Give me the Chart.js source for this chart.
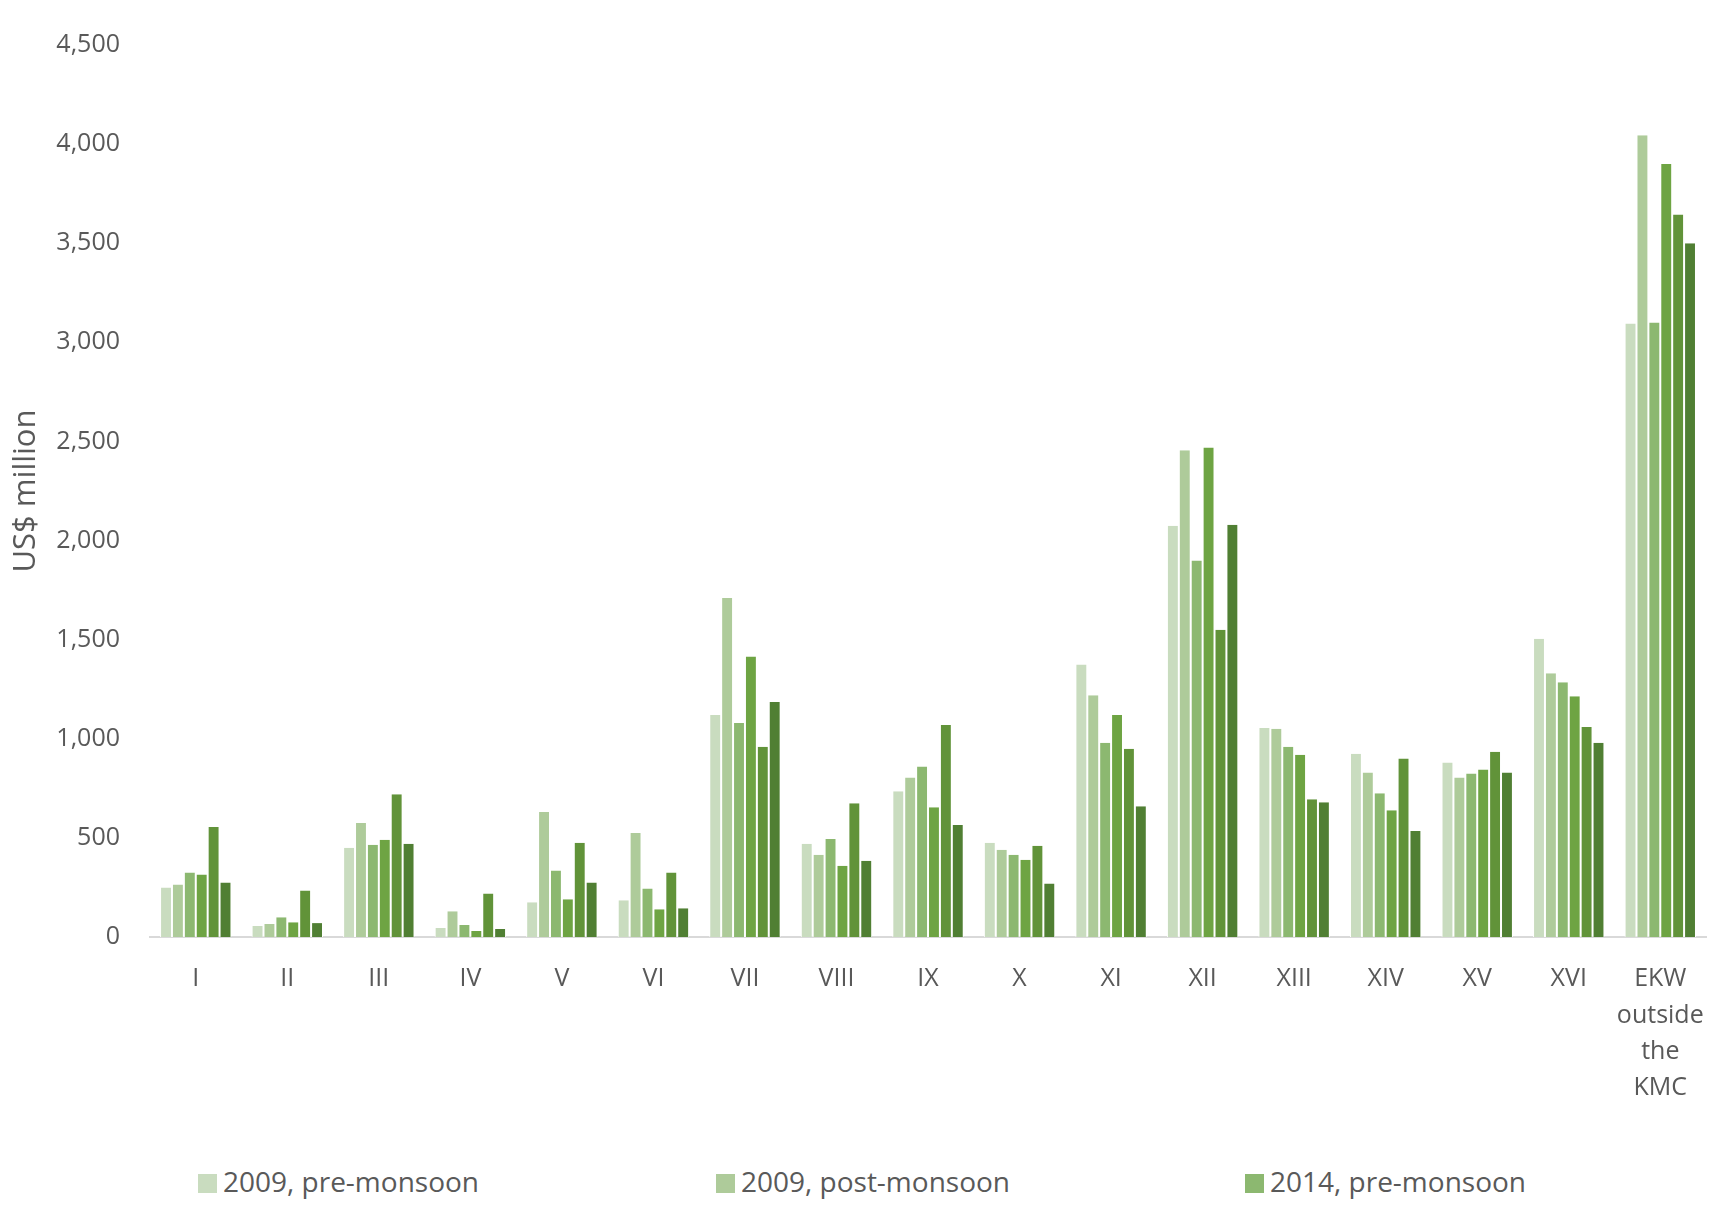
<!DOCTYPE html>
<html>
<head>
<meta charset="utf-8">
<script src="https://cdn.jsdelivr.net/npm/chart.js@4"></script>
<style>
  html, body { margin: 0; padding: 0; background: #fff; }
  #wrap { position: relative; width: 1728px; height: 1211px; }
  #legend { position: absolute; left: 0; top: 1162px; width: 1728px; height: 40px; font-family: 'Open Sans', 'Liberation Sans', sans-serif; font-size: 28px; color: #595959; }
  #legend span.item { position: absolute; top: 0; white-space: nowrap; }
  #legend span.box { display: inline-block; width: 19px; height: 19px; margin-right: 6px; vertical-align: -1px; }
</style>
</head>
<body>
<div id="wrap">
  <canvas id="chart" width="1728" height="1130"></canvas>
  <div id="legend"></div>
</div>
<script>
// Wards / areas on the x axis
const categories = ['I', 'II', 'III', 'IV', 'V', 'VI', 'VII', 'VIII', 'IX', 'X', 'XI', 'XII', 'XIII', 'XIV', 'XV', 'XVI', ['EKW', 'outside', 'the', 'KMC']];

const seriesNames = ['2009, pre-monsoon', '2009, post-monsoon', '2014, pre-monsoon', '2014, post-monsoon', '2019, pre-monsoon', '2019, post-monsoon'];

const pre2009  = [250, 55, 450, 45, 175, 185, 1120, 470, 735, 475, 1375, 2075, 1055, 925, 880, 1505, 3095];
const post2009 = [265, 65, 575, 130, 630, 525, 1710, 415, 805, 440, 1220, 2455, 1050, 830, 805, 1330, 4045];
const pre2014  = [325, 100, 465, 60, 335, 245, 1080, 495, 860, 415, 980, 1900, 960, 725, 825, 1285, 3100];
const post2014 = [315, 75, 490, 30, 190, 140, 1415, 360, 655, 390, 1120, 2470, 920, 640, 845, 1215, 3900];
const pre2019  = [555, 235, 720, 220, 475, 325, 960, 675, 1070, 460, 950, 1550, 695, 900, 935, 1060, 3645];
const post2019 = [275, 70, 470, 40, 275, 145, 1185, 385, 565, 270, 660, 2080, 680, 535, 830, 980, 3500];

const colors = ['#c9dcbf', '#aecb9a', '#8cb870', '#6ea443', '#619339', '#507f33'];
const allSeries = [pre2009, post2009, pre2014, post2014, pre2019, post2019];

const textColor = '#595959';
const font = "'Open Sans', 'Liberation Sans', sans-serif";

new Chart(document.getElementById('chart'), {
    type: 'bar',
    data: {
        labels: categories,
        datasets: allSeries.map((d, i) => ({
            label: seriesNames[i],
            data: d,
            backgroundColor: colors[i],
            borderColor: '#ffffff',
            borderWidth: { left: 1, right: 1, top: 0, bottom: 0 },
            categoryPercentage: 0.78,
            barPercentage: 1.0
        }))
    },
    options: {
        responsive: false,
        animation: false,
        devicePixelRatio: 1,
        layout: { padding: { left: 8, right: 10, top: 10, bottom: 0 } },
        plugins: {
            legend: { display: false },
            tooltip: { enabled: false }
        },
        scales: {
            x: {
                grid: { display: false, drawTicks: false },
                border: { color: '#d9d9d9', width: 2 },
                ticks: { color: textColor, font: { family: font, size: 25, lineHeight: 1.45 }, padding: 24, maxRotation: 0, autoSkip: false }
            },
            y: {
                min: 0, max: 4500,
                afterFit: s => { s.width = 142; },
                grid: { display: false, drawTicks: false },
                border: { display: false },
                ticks: { stepSize: 500, color: textColor, font: { family: font, size: 25 }, padding: 30 },
                title: { display: true, text: 'US$ million', color: textColor, font: { family: font, size: 31 }, padding: 0 }
            }
        }
    }
});

// legend shows the first three series only, as in the source figure
const legend = document.getElementById('legend');
const legendX = [198, 716, 1245];
seriesNames.slice(0, 3).forEach((name, i) => {
    const item = document.createElement('span');
    item.className = 'item';
    item.style.left = legendX[i] + 'px';
    const box = document.createElement('span');
    box.className = 'box';
    box.style.background = colors[i];
    item.appendChild(box);
    item.appendChild(document.createTextNode(name));
    legend.appendChild(item);
});
</script>
</body>
</html>
